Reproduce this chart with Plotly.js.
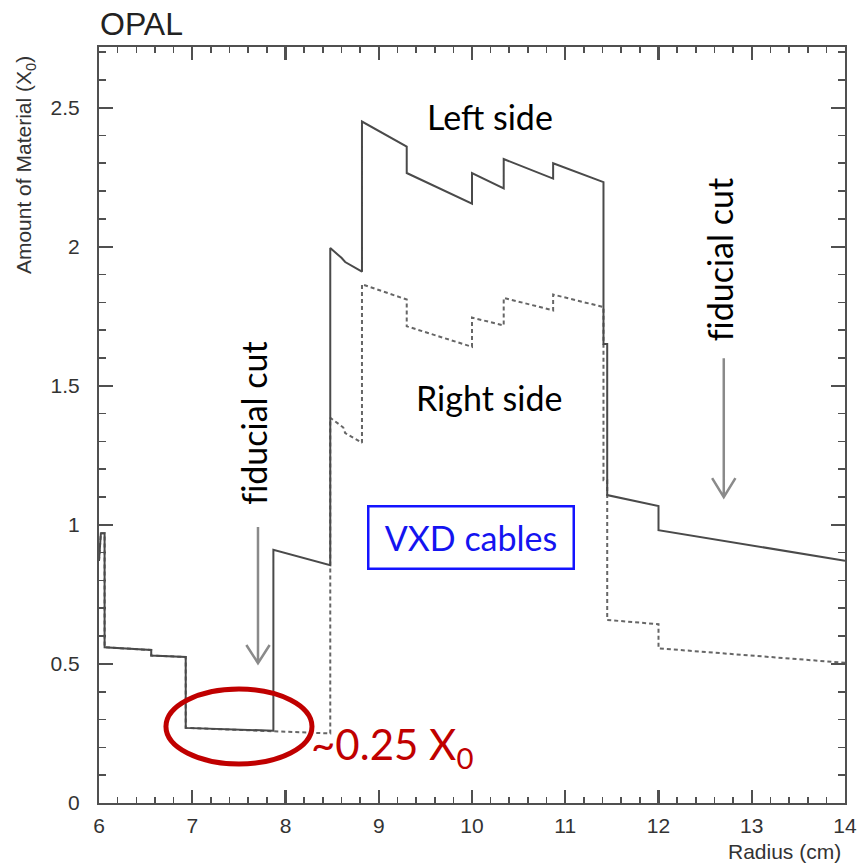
<!DOCTYPE html>
<html>
<head>
<meta charset="utf-8">
<script src="https://cdn.plot.ly/plotly-3.0.1.min.js"></script>
<style>html,body{margin:0;padding:0;background:#fff;}#chart{width:858px;height:863px;}</style>
</head>
<body>
<div id="chart"></div>
<script>
// Radius (cm) and amount of material (X0), left side (solid) and right side (dashed)
var leftRadius = [6.0, 6.02, 6.06, 6.06, 6.56, 6.56, 6.93, 6.93, 7.87, 7.87, 8.48, 8.48, 8.60, 8.64, 8.82, 8.82, 9.30, 9.30, 10.0, 10.0, 10.34, 10.34, 10.87, 10.87, 11.41, 11.41, 11.45, 11.45, 12.0, 12.0, 14.0];
var leftMaterial = [0.87, 0.97, 0.97, 0.56, 0.55, 0.53, 0.525, 0.27, 0.26, 0.91, 0.855, 1.995, 1.96, 1.945, 1.91, 2.45, 2.36, 2.265, 2.155, 2.265, 2.21, 2.315, 2.245, 2.30, 2.232, 1.65, 1.65, 1.107, 1.068, 0.981, 0.871];

var rightRadius = [6.0, 6.02, 6.06, 6.06, 6.56, 6.56, 6.93, 6.93, 7.87, 8.48, 8.48, 8.62, 8.64, 8.82, 8.82, 9.30, 9.30, 10.0, 10.0, 10.34, 10.34, 10.87, 10.87, 11.41, 11.41, 11.45, 11.45, 12.0, 12.0, 14.0];
var rightMaterial = [0.87, 0.97, 0.97, 0.56, 0.55, 0.53, 0.525, 0.27, 0.258, 0.25, 1.385, 1.35, 1.33, 1.295, 1.865, 1.81, 1.714, 1.64, 1.745, 1.717, 1.816, 1.771, 1.828, 1.783, 1.16, 1.16, 0.658, 0.643, 0.556, 0.504];

var xTickVals = [6, 7, 8, 9, 10, 11, 12, 13, 14];
var yTickVals = [0, 0.5, 1, 1.5, 2, 2.5];

var axisColor = '#505050';
var tickFont = {family: 'Liberation Sans, Arial, sans-serif', size: 21, color: '#333'};
var noteFont = 'Lato, sans-serif';
var ZWNJ = '\u200C';
var fiducialText = 'f' + ZWNJ + 'iducial cut';

var traces = [
  {x: rightRadius, y: rightMaterial, type: 'scatter', mode: 'lines', name: 'Right side',
   line: {color: '#666', width: 2, dash: '4px,3px'}, hoverinfo: 'x+y'},
  {x: leftRadius, y: leftMaterial, type: 'scatter', mode: 'lines', name: 'Left side',
   line: {color: '#4a4a4a', width: 2}, hoverinfo: 'x+y'}
];

var layout = {
  width: 858, height: 863,
  margin: {l: 99, r: 13, t: 47, b: 60, pad: 0},
  paper_bgcolor: '#fff', plot_bgcolor: 'rgba(0,0,0,0)',
  showlegend: false,
  xaxis: {
    range: [6, 14], tickmode: 'array', tickvals: xTickVals, ticks: 'inside', ticklen: 13, tickwidth: 2.2, tickcolor: axisColor,
    showline: true, linewidth: 2, linecolor: axisColor, mirror: 'allticks',
    showgrid: false, zeroline: false, tickfont: tickFont, ticklabelstandoff: 3,
    minor: {dtick: 0.2, ticks: 'inside', ticklen: 6, tickwidth: 1.6, tickcolor: axisColor, showgrid: false}
  },
  yaxis: {
    range: [0, 2.718], tickmode: 'array', tickvals: yTickVals, ticks: 'inside', ticklen: 14, tickwidth: 2.2, tickcolor: axisColor,
    showline: true, linewidth: 2, linecolor: axisColor, mirror: 'allticks',
    showgrid: false, zeroline: false, tickfont: tickFont, ticklabelstandoff: 13,
    minor: {dtick: 0.1, ticks: 'inside', ticklen: 7, tickwidth: 1.6, tickcolor: axisColor, showgrid: false}
  },
  annotations: [
    {text: 'OPAL', xref: 'paper', yref: 'paper', x: -0.002, y: 1.0304, xanchor: 'left', yanchor: 'middle',
     showarrow: false, font: {family: 'Liberation Sans, Arial, sans-serif', size: 32, color: '#222'}},
    {text: 'Amount of Material (X<sub>0</sub>)', xref: 'paper', yref: 'paper', x: -0.099, y: 0.844,
     xanchor: 'center', yanchor: 'middle', textangle: -90, showarrow: false,
     font: {family: 'Liberation Sans, Arial, sans-serif', size: 21, color: '#333'}},
    {text: 'Radius (cm)', xref: 'paper', yref: 'paper', x: 0.9973, y: -0.0648, xanchor: 'right', yanchor: 'middle',
     showarrow: false, font: {family: 'Liberation Sans, Arial, sans-serif', size: 21, color: '#333'}},
    {text: 'Left side', x: 10.188, y: 2.469, showarrow: false, font: {family: noteFont, size: 34, color: '#000'}},
    {text: 'Right side', x: 10.18, y: 1.459, showarrow: false, font: {family: noteFont, size: 34, color: '#000'}},
    {text: fiducialText, x: 7.662, y: 1.367, textangle: -90, showarrow: false, font: {family: noteFont, size: 34, color: '#000'}},
    {text: fiducialText, x: 12.649, y: 1.951, textangle: -90, showarrow: false, font: {family: noteFont, size: 34, color: '#000'}},
    {text: 'VXD cables', x: 9.989, y: 0.956, showarrow: false, width: 203, height: 60, borderpad: 0,
     bordercolor: '#1414ff', borderwidth: 2.5, bgcolor: '#fff', font: {family: noteFont, size: 34, color: '#1414f0'}},
    {text: '~0.25 X<sub>0</sub>', x: 8.25, y: 0.2, xanchor: 'left', yanchor: 'middle', showarrow: false,
     font: {family: noteFont, size: 42, color: '#c00000'}}
  ],
  shapes: [
    {type: 'circle', xref: 'x', yref: 'y', x0: 6.718, x1: 8.284, y0: 0.14, y1: 0.41,
     line: {color: '#c00000', width: 5}},
    {type: 'path', xref: 'x', yref: 'y', path: 'M 7.705 0.992 L 7.705 0.503 M 7.58 0.568 L 7.705 0.503 L 7.83 0.568',
     line: {color: '#8a8a8a', width: 2.5}},
    {type: 'path', xref: 'x', yref: 'y', path: 'M 12.70 1.599 L 12.70 1.0995 M 12.575 1.168 L 12.70 1.0995 L 12.825 1.168',
     line: {color: '#8a8a8a', width: 2.5}}
  ]
};

Plotly.newPlot('chart', traces, layout, {staticPlot: true});
</script>
</body>
</html>
